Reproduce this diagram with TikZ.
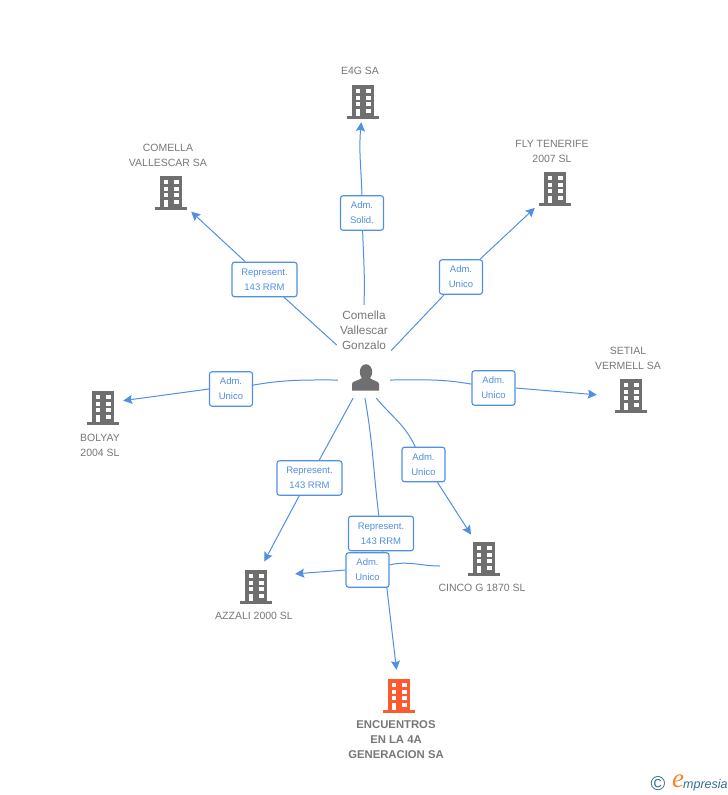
\documentclass[tikz,border=0pt]{standalone}
\usepackage{fontspec}
\setmainfont{Liberation Sans}
\newfontfamily\logoserif{Liberation Serif}
\usetikzlibrary{arrows.meta,backgrounds}
\definecolor{linkblue}{HTML}{4F8FE6}
\definecolor{bldggray}{HTML}{6F6F6F}
\definecolor{textgray}{HTML}{777777}
\definecolor{hiorange}{HTML}{FF5A2E}
\definecolor{logoteal}{HTML}{2F6F8F}
\definecolor{logoorange}{HTML}{F5862A}
\tikzset{
  >={Stealth[length=9pt,width=9pt,inset=1.5pt]},
  link/.style={draw=linkblue,line width=1pt},
  relbox/.style={draw=linkblue,line width=1.1pt,fill=white,rounded corners=2.5pt,align=center,
    text=linkblue,font=\fontsize{9.5}{15}\selectfont,inner sep=0pt},
  admbox/.style={relbox,minimum width=43pt,minimum height=34.5pt},
  repbox/.style={relbox,minimum width=65pt,minimum height=34.5pt},
  firm/.style={align=center,text=textgray,font=\fontsize{10.5}{15}\selectfont,inner sep=0pt},
  bldg/.style={minimum width=40pt,minimum height=40pt,inner sep=0pt},
  pics/tower/.style={code={
    \fill[#1] (-11,-17) rectangle (11,14);
    \fill[#1] (-16,14) rectangle (16,17);
    \foreach \wy in {-13,-6.5,0} {
      \fill[white] (-7.5,\wy) rectangle (-2.7,\wy+4.3);
      \fill[white] (2.7,\wy) rectangle (7.7,\wy+4.3);
    }
    \fill[white] (2.7,7) rectangle (7.7,11.3);
    \fill[white] (-7.5,7) rectangle (-3,14);
  }},
}
\begin{document}
\begin{tikzpicture}[x=1pt,y=-1pt]
\useasboundingbox (0,0) rectangle (728,795);

% buildings
\node[bldg] (e4g) at (363,102) {};
\node[bldg] (comella) at (171,193) {};
\node[bldg] (fly) at (555,189) {};
\node[bldg] (setial) at (631,396) {};
\node[bldg] (bolyay) at (103,408) {};
\node[bldg] (azzali) at (256,587) {};
\node[bldg] (cinco) at (484,559) {};
\node[bldg] (encuentros) at (399,696) {};
\pic at (e4g) {tower=bldggray};
\pic at (comella) {tower=bldggray};
\pic at (fly) {tower=bldggray};
\pic at (setial) {tower=bldggray};
\pic at (bolyay) {tower=bldggray};
\pic at (azzali) {tower=bldggray};
\pic at (cinco) {tower=bldggray};
\pic at (encuentros) {tower=hiorange};

% firm names
\node[firm] (e4gname) at (360,71) {E4G SA};
\node[firm] (comellaname) at (168,155) {COMELLA\\VALLESCAR SA};
\node[firm] (flyname) at (552,151) {FLY TENERIFE\\2007 SL};
\node[firm] (setialname) at (628,358) {SETIAL\\VERMELL SA};
\node[firm] (bolyayname) at (100,445) {BOLYAY\\2004 SL};
\node[firm] (azzaliname) at (254,616) {AZZALI 2000 SL};
\node[firm] (cinconame) at (482,588) {CINCO G 1870 SL};
\node[firm,font=\fontsize{11.3}{15}\selectfont\bfseries] (encuentrosname) at (396,740) {ENCUENTROS\\EN LA 4A\\GENERACION SA};

% the person
\node[firm,font=\fontsize{11.8}{15}\selectfont,minimum width=54pt,minimum height=50pt] (name) at (364,330) {Comella\\Vallescar\\Gonzalo};
\node[minimum width=52pt,minimum height=36pt,inner sep=0pt] (person) at (364,380) {};
\fill[bldggray] (366,372) ellipse (6.2 and 7.8);
\fill[bldggray] (352,390.5) -- (352,384) .. controls (352,381) and (358,381) .. (362,378) -- (370,378)
  .. controls (373,381) and (379,381) .. (379,384) -- (379,390.5) -- cycle;

% role boxes
\node[admbox] (solid) at (362,213) {Adm.\\Solid.};
\node[repbox] (repcomella) at (264.5,279.5) {Represent.\\143 RRM};
\node[admbox] (admfly) at (461,277) {Adm.\\Unico};
\node[admbox] (admsetial) at (493.5,388) {Adm.\\Unico};
\node[admbox] (admbolyay) at (231,389) {Adm.\\Unico};
\node[repbox] (repazzali) at (309.5,478) {Represent.\\143 RRM};
\node[admbox] (admcinco) at (423.5,464.5) {Adm.\\Unico};
\node[repbox] (repenc) at (381,533.5) {Represent.\\143 RRM};
\node[admbox] (admazzali) at (367.5,570) {Adm.\\Unico};
\coordinate (cincoend) at (440,566);

% connectors
\begin{scope}[on background layer]
\draw[link] (name.north) to [out=88,in=-88] (solid);
\draw[link,->] (solid.north) to [out=92,in=-95] (e4g);
\draw[link] (name.-151) -- (repcomella);
\draw[link,->] (repcomella) -- (comella);
\draw[link] (name.-37) -- (admfly);
\draw[link,->] (admfly) -- (fly);
\draw[link] (person.east) to [out=0,in=170] (admsetial);
\draw[link,->,shorten >=14pt] (admsetial.east) -- (setial.west);
\draw[link] (person.west) to [out=180,in=10] (admbolyay);
\draw[link,->] (admbolyay.west) -- (bolyay.20);
\draw[link] (person.-121) -- (repazzali);
\draw[link,->,shorten >=6pt] (repazzali.-120) -- (azzali.75);
\draw[link] (person.-56) to [out=-50,in=115] (admcinco);
\draw[link,->,shorten >=5pt] (admcinco.-52) -- (cinco.117);
\draw[link] (person.-87) to [out=-80,in=97] (repenc);
\draw[link,->,shorten >=6pt] (repenc.-85) -- (encuentros.95);
\draw[link] (cincoend) to [out=180,in=13] (admazzali);
\draw[link,->,shorten >=19pt] (admazzali.west) -- (azzali.30);
\end{scope}

% logo
\node[text=logoteal,font=\fontsize{20}{20}\selectfont,inner sep=0pt] (copy) at (658,784) {©};
\node[text=logoorange,font=\logoserif\itshape\fontsize{27}{27}\selectfont,inner sep=0pt] (logoe) at (678,781) {e};
\node[text=logoteal,font=\itshape\fontsize{12.5}{12}\selectfont,inner sep=0pt,anchor=base west] (logotext) at (683,788) {mpresia};
\end{tikzpicture}
\end{document}
